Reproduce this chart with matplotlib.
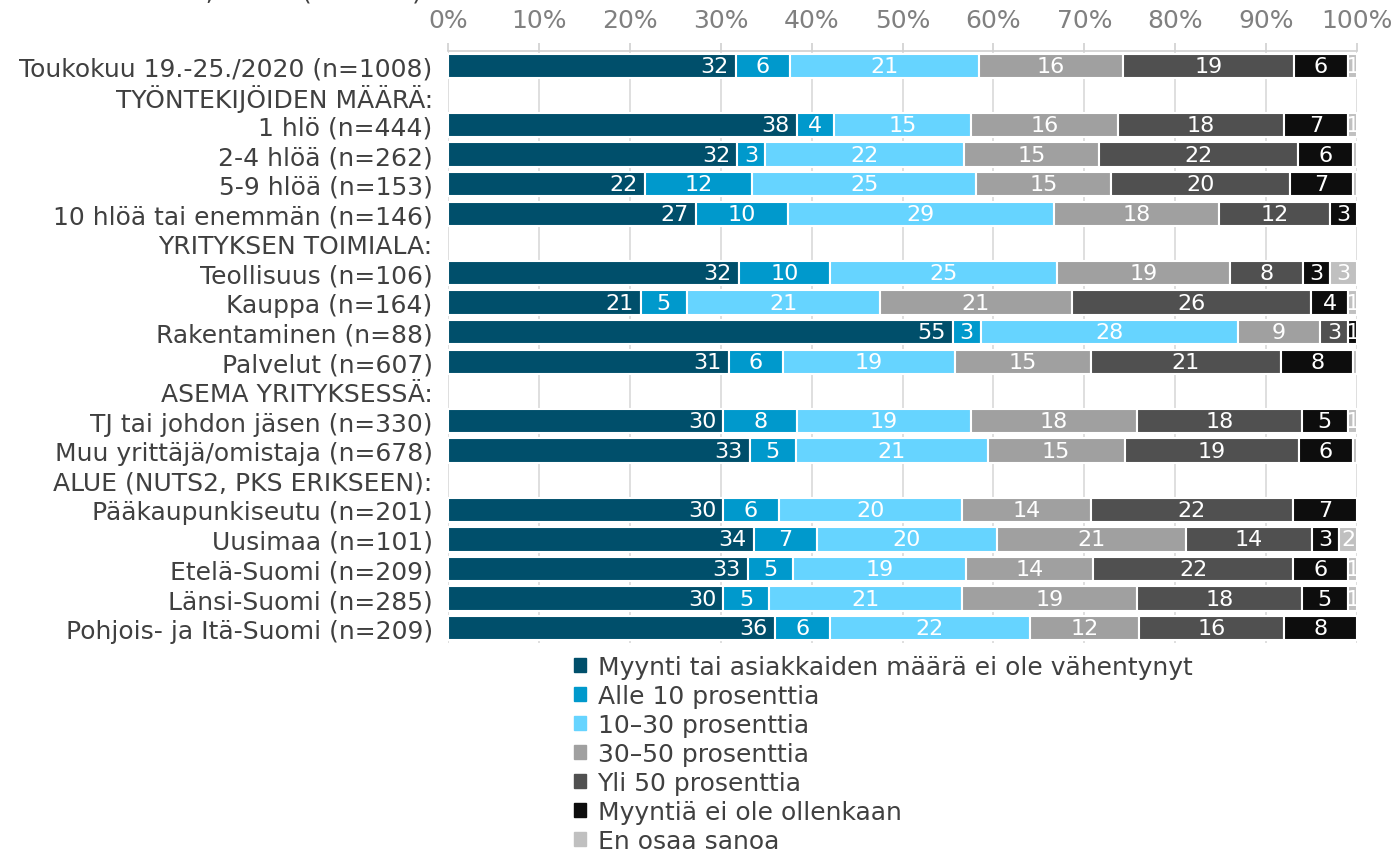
import numpy as np
import matplotlib
matplotlib.use("Agg")
import matplotlib.pyplot as plt

plt.rcParams["font.family"] = ["DejaVu Sans"]

categories = [
    "Toukokuu 19.-25./2020 (n=1008)",
    "TYÖNTEKIJÖIDEN MÄÄRÄ:",
    "1 hlö (n=444)",
    "2-4 hlöä (n=262)",
    "5-9 hlöä (n=153)",
    "10 hlöä tai enemmän (n=146)",
    "YRITYKSEN TOIMIALA:",
    "Teollisuus (n=106)",
    "Kauppa (n=164)",
    "Rakentaminen (n=88)",
    "Palvelut (n=607)",
    "ASEMA YRITYKSESSÄ:",
    "TJ tai johdon jäsen (n=330)",
    "Muu yrittäjä/omistaja (n=678)",
    "ALUE (NUTS2, PKS ERIKSEEN):",
    "Pääkaupunkiseutu (n=201)",
    "Uusimaa (n=101)",
    "Etelä-Suomi (n=209)",
    "Länsi-Suomi (n=285)",
    "Pohjois- ja Itä-Suomi (n=209)",
]

series = [
    "Myynti tai asiakkaiden määrä ei ole vähentynyt",
    "Alle 10 prosenttia",
    "10\u201330 prosenttia",
    "30\u201350 prosenttia",
    "Yli 50 prosenttia",
    "Myyntiä ei ole ollenkaan",
    "En osaa sanoa",
]
colors = ["#004f6b", "#0099cc", "#66d4ff", "#a0a0a0", "#505050", "#0d0d0d", "#c0c0c0"]

# one row per category, None = header row without a bar
values = [
    [32, 6, 21, 16, 19, 6, 1],
    None,
    [38, 4, 15, 16, 18, 7, 1],
    [32, 3, 22, 15, 22, 6, 0.5],
    [22, 12, 25, 15, 20, 7, 0.5],
    [27, 10, 29, 18, 12, 3, 0],
    None,
    [32, 10, 25, 19, 8, 3, 3],
    [21, 5, 21, 21, 26, 4, 1],
    [55, 3, 28, 9, 3, 1, 0],
    [31, 6, 19, 15, 21, 8, 0.4],
    None,
    [30, 8, 19, 18, 18, 5, 1],
    [33, 5, 21, 15, 19, 6, 0.4],
    None,
    [30, 6, 20, 14, 22, 7, 0],
    [34, 7, 20, 21, 14, 3, 2],
    [33, 5, 19, 14, 22, 6, 1],
    [30, 5, 21, 19, 18, 5, 1],
    [36, 6, 22, 12, 16, 8, 0],
]

ticks = np.arange(0, 101, 10)

fig = plt.figure(figsize=(13.96, 8.54), dpi=100)
ax = fig.add_axes([0.3209, 0.2459, 0.6512, 0.6932])

text_color = "#404040"
fs = 18

for i, row in enumerate(values):
    if row is None:
        continue
    total = sum(row)
    left = 0
    for j, v in enumerate(row):
        w = v / total * 100
        if w <= 0:
            continue
        ax.barh(i, w, left=left, height=0.82, color=colors[j],
                edgecolor="white", linewidth=1.5, zorder=3)
        if v >= 1:
            if j == 0:
                ax.text(left + w - 0.8, i, f"{v:.0f}", ha="right", va="center",
                        color="white", fontsize=16, zorder=4, clip_on=True)
            else:
                ax.text(left + w / 2, i, f"{v:.0f}", ha="center", va="center",
                        color="white", fontsize=16, zorder=4, clip_on=True)
        left += w

ax.set_xlim(0, 100)
ax.set_ylim(len(categories) - 0.5, -0.5)
ax.set_yticks(range(len(categories)))
ax.set_yticklabels(categories, fontsize=fs, color=text_color)
ax.tick_params(axis="y", length=0, pad=11)

ax.xaxis.tick_top()
ax.set_xticks(ticks)
ax.set_xticklabels([f"{t}%" for t in ticks], fontsize=fs, color="#808080")
ax.tick_params(axis="x", length=6, width=1.2, color="#d0d0d0", pad=8, direction="out")
ax.grid(axis="x", color="#d9d9d9", linewidth=1.2, zorder=0)

for side in ["right", "bottom", "left"]:
    ax.spines[side].set_visible(False)
ax.spines["top"].set_color("#d0d0d0")
ax.spines["top"].set_linewidth(1.2)

# title cut off at the top edge of the original image
fig.text(0.302, 1.008, "Myynnin väheneminen, kaikki (n=1008)", ha="right", va="center",
         fontsize=fs, color=text_color)

handles = [plt.Rectangle((0, 0), 1, 1, color=c) for c in colors]
fig.legend(handles, series, loc="upper left", bbox_to_anchor=(0.411, 0.232),
           frameon=False, fontsize=fs, handlelength=0.5, handleheight=0.5,
           handletextpad=0.45, labelspacing=0.2, borderaxespad=0, borderpad=0,
           labelcolor=text_color)

fig.savefig("out.png", dpi=100)
